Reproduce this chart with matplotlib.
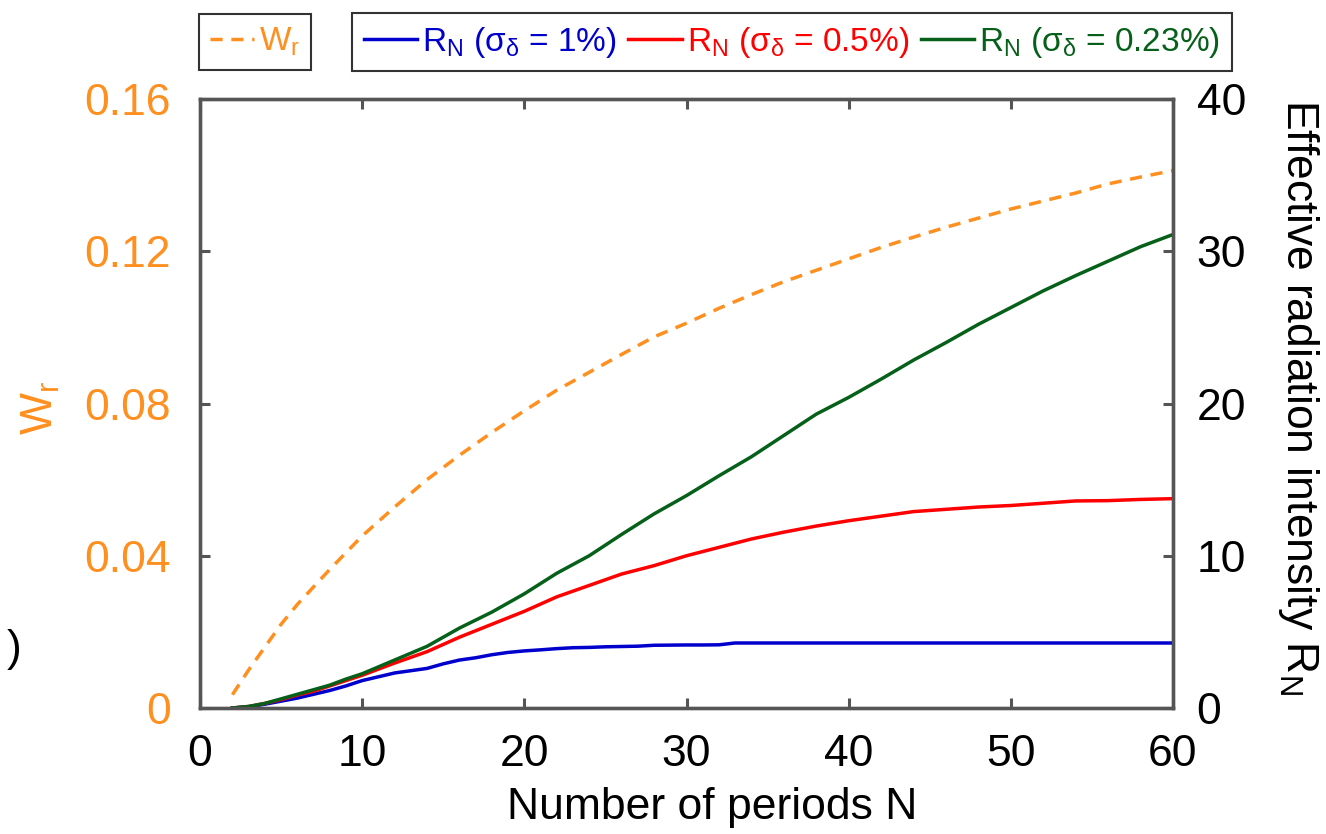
import matplotlib
matplotlib.use("Agg")
import matplotlib.pyplot as plt

# Fonts: Arial-like look
plt.rcParams['font.family'] = ['Liberation Sans', 'DejaVu Sans']
plt.rcParams['mathtext.fontset'] = 'custom'
plt.rcParams['mathtext.rm'] = 'Liberation Sans'
plt.rcParams['mathtext.it'] = 'Liberation Sans'
plt.rcParams['mathtext.bf'] = 'Liberation Sans:bold'

# Data
n_wr = [2, 3, 4, 5, 6, 7, 8, 9, 10, 12, 14, 16, 18, 20, 22, 24, 26, 28, 30,
        32, 34, 36, 38, 40, 42, 44, 46, 48, 50, 52, 54, 56, 58, 60]
wr = [0.0035, 0.0100, 0.0160, 0.0220, 0.0272, 0.0318, 0.0364, 0.0408, 0.0452,
      0.0528, 0.0600, 0.0664, 0.0724, 0.0781, 0.0835, 0.0882, 0.0929, 0.0975,
      0.1011, 0.1050, 0.1086, 0.1120, 0.1150, 0.1180, 0.1210, 0.1237, 0.1263,
      0.1287, 0.1311, 0.1332, 0.1353, 0.1377, 0.1395, 0.1412]

n_blue = [2, 3, 4, 5, 6, 7, 8, 9, 10, 11, 12, 13, 14, 15, 16, 17, 18, 19, 20,
          21, 22, 23, 24, 25, 26, 27, 28, 29, 30, 31, 32, 33, 60]
r_blue = [0, 0.08, 0.25, 0.45, 0.65, 0.9, 1.15, 1.45, 1.8, 2.05, 2.3, 2.45, 2.6,
          2.9, 3.15, 3.3, 3.5, 3.65, 3.75, 3.82, 3.9, 3.96, 3.98, 4.02, 4.04,
          4.06, 4.12, 4.13, 4.14, 4.14, 4.15, 4.27, 4.27]

n_red = [2, 3, 4, 5, 6, 7, 8, 9, 10, 12, 14, 16, 18, 20, 22, 24, 26, 28, 30,
         32, 34, 36, 38, 40, 42, 44, 46, 48, 50, 52, 54, 56, 58, 60]
r_red = [0, 0.1, 0.3, 0.55, 0.85, 1.1, 1.45, 1.8, 2.15, 2.95, 3.7, 4.65, 5.5,
         6.35, 7.3, 8.05, 8.8, 9.35, 10.0, 10.55, 11.1, 11.55, 11.95, 12.3, 12.6,
         12.9, 13.05, 13.2, 13.3, 13.45, 13.6, 13.62, 13.7, 13.75]

n_green = [2, 3, 4, 5, 6, 7, 8, 9, 10, 12, 14, 16, 18, 20, 22, 24, 26, 28, 30,
           32, 34, 36, 38, 40, 42, 44, 46, 48, 50, 52, 54, 56, 58, 60]
r_green = [0, 0.1, 0.3, 0.6, 0.9, 1.2, 1.5, 1.9, 2.25, 3.15, 4.05, 5.25, 6.3,
           7.5, 8.85, 10.0, 11.4, 12.75, 13.95, 15.25, 16.5, 17.9, 19.3, 20.4,
           21.6, 22.85, 24.0, 25.2, 26.3, 27.4, 28.4, 29.35, 30.3, 31.1]

x_ticks = [0, 10, 20, 30, 40, 50, 60]
wr_ticks = [0, 0.04, 0.08, 0.12, 0.16]
wr_tick_labels = ['0', '0.04', '0.08', '0.12', '0.16']
r_ticks = [0, 10, 20, 30, 40]

labels = [r'R$_\mathrm{N}$ ($\sigma_\delta$ = 1%)',
          r'R$_\mathrm{N}$ ($\sigma_\delta$ = 0.5%)',
          r'R$_\mathrm{N}$ ($\sigma_\delta$ = 0.23%)']

orange = '#FF8F1F'
colors = ['#0000CD', '#FF0000', '#06601A']
spine_col = '#555555'

fig = plt.figure(figsize=(13.26, 8.34), dpi=100)
ax = fig.add_axes([200 / 1326, 1 - 708 / 834, 973 / 1326, 609 / 834])
ax2 = ax.twinx()

# W_r on left axis
wr_line, = ax.plot(n_wr, wr, color=orange, lw=2.5, linestyle=(0, (3.5, 2.5)))

# R_N curves on right axis
r_lines = []
for n, r, c in zip([n_blue, n_red, n_green], [r_blue, r_red, r_green], colors):
    line, = ax2.plot(n, r, color=c, lw=2.5)
    r_lines.append(line)

ax.set_xlim(0, 60)
ax.set_ylim(0, 0.16)
ax2.set_ylim(0, 40)
ax.set_xticks(x_ticks)
ax.set_yticks(wr_ticks)
ax.set_yticklabels(wr_tick_labels)
ax2.set_yticks(r_ticks)

for a in (ax, ax2):
    for s in a.spines.values():
        s.set_color(spine_col)
        s.set_linewidth(2.4)

ax.tick_params(axis='x', direction='in', top=True, length=7, width=2.2,
               color=spine_col, labelsize=32, pad=19, labelcolor='black')
ax.tick_params(axis='y', direction='in', length=7, width=2.2,
               color=spine_col, labelsize=32, pad=21, labelcolor=orange)
ax2.tick_params(axis='y', direction='in', length=7, width=2.2,
                color=spine_col, labelsize=32, pad=17, labelcolor='black')

ax.set_xlabel('Number of periods N', fontsize=32, va='top')
ax.xaxis.set_label_coords(0.526, -0.13)
ax.set_ylabel(r'W$_\mathrm{r}$', fontsize=32, color=orange)
ax.yaxis.set_label_coords(-0.142, 0.493)
ax2.set_ylabel(r'Effective radiation intensity R$_\mathrm{N}$', fontsize=32,
               rotation=-90, va='bottom')
ax2.yaxis.set_label_coords(1.106, 0.51)

# Two boxed legends across the top
leg1 = fig.legend([wr_line], [r'W$_\mathrm{r}$'], loc='center',
                  bbox_to_anchor=(255 / 1326, 1 - 42 / 834), fontsize=24,
                  frameon=True, fancybox=False, edgecolor='black',
                  handlelength=1.3, handletextpad=0.15, borderpad=0.35)
leg1.get_frame().set_linewidth(1.5)
leg1.get_texts()[0].set_color(orange)

leg2 = fig.legend(r_lines, labels, loc='center', ncol=3,
                  bbox_to_anchor=(792 / 1326, 1 - 42 / 834), fontsize=24,
                  frameon=True, fancybox=False, edgecolor='black',
                  handlelength=1.6, handletextpad=0.15, columnspacing=0.35,
                  borderpad=0.35)
leg2.get_frame().set_linewidth(1.5)
for t, c in zip(leg2.get_texts(), colors):
    t.set_color(c)

# Leftover of a panel label at the left edge
fig.text(7 / 1326, 1 - 650 / 834, ')', ha='left', va='center', fontsize=32)

fig.savefig('out.png', dpi=100)
